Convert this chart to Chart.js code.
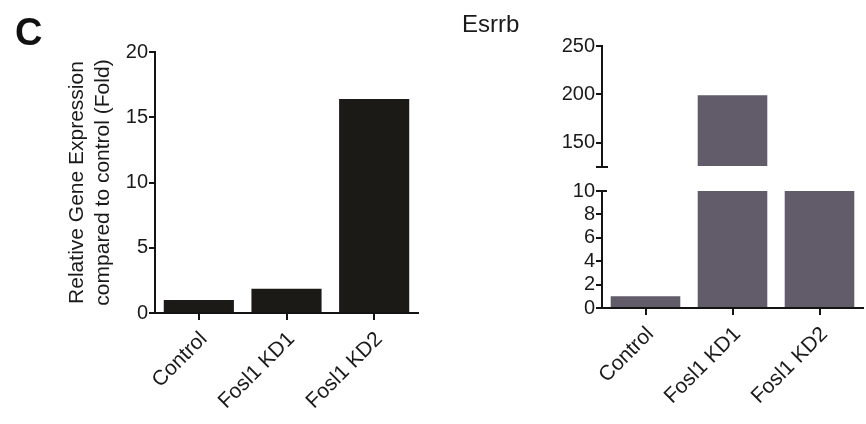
<!DOCTYPE html>
<html>
<head>
<meta charset="utf-8">
<script src="https://cdn.jsdelivr.net/npm/chart.js@4.4.1/dist/chart.umd.min.js"></script>
<style>
  html, body { margin: 0; padding: 0; background: #ffffff; }
  #fig { position: relative; width: 866px; height: 424px; overflow: hidden; background: #ffffff; }
  .wrap { position: absolute; top: 0; height: 424px; }
  #leftWrap { left: 0; width: 440px; }
  #rightWrap { left: 440px; width: 426px; }
  .panel-letter { position: absolute; left: 15px; top: 13px; font: bold 38px "Liberation Sans", Arial, sans-serif; line-height: 1; color: #111; }
  .gene { position: absolute; left: 462px; top: 12px; font: 24px "Liberation Sans", Arial, sans-serif; line-height: 1; color: #1a1a1a; }
</style>
</head>
<body>
<div id="fig">
  <div id="leftWrap" class="wrap"><canvas id="left"></canvas></div>
  <div id="rightWrap" class="wrap"><canvas id="right"></canvas></div>
  <div class="panel-letter">C</div>
  <div class="gene">Esrrb</div>
</div>
<script>
// Sample groups
const categories = ['Control', 'Fosl1 KD1', 'Fosl1 KD2'];

// Left panel: fold change relative to control
const foldValues = [1.0, 1.85, 16.4];
const foldTicks = [0, 5, 10, 15, 20];

// Right panel (Esrrb): fold change, shown on a broken axis
const esrrbValues = [1.0, 199, 17];
const esrrbLowerTicks = [0, 2, 4, 6, 8, 10];
const esrrbUpperTicks = [125, 150, 200, 250];

const FONT = '"Liberation Sans", Arial, sans-serif';
const INK = '#1a1a1a';
const AXIS = '#141414';

Chart.defaults.font.family = FONT;
Chart.defaults.color = INK;

function fixedTicks(list) {
  return scale => { scale.ticks = list.map(v => ({ value: v })); };
}

function valueAxisBase(list) {
  return {
    type: 'linear',
    position: 'left',
    min: list[0],
    max: list[list.length - 1],
    afterBuildTicks: fixedTicks(list),
    border: { display: true, color: AXIS, width: 2 },
    grid: { display: true, drawOnChartArea: false, drawTicks: true, tickLength: 6, color: AXIS, lineWidth: 2 },
    ticks: { font: { size: 20 }, color: INK, padding: 1, autoSkip: false }
  };
}

function categoryAxis(height) {
  return {
    type: 'category',
    offset: true,
    afterFit: s => { s.height = height; },
    border: { display: true, color: AXIS, width: 2 },
    grid: { display: true, offset: false, drawOnChartArea: false, drawTicks: true, tickLength: 7, color: AXIS, lineWidth: 2 },
    ticks: { font: { size: 21 }, color: INK, maxRotation: 45, minRotation: 45, autoSkip: false, padding: 7, labelOffset: 5 }
  };
}

// ---- Left panel ----
const leftY = valueAxisBase(foldTicks);
leftY.afterFit = s => { s.width = 155; };
leftY.title = {
  display: true,
  text: ['Relative Gene Expression', 'compared to control (Fold)'],
  font: { size: 21 },
  color: INK,
  padding: { top: 65 }
};

new Chart(document.getElementById('left'), {
  type: 'bar',
  data: {
    labels: categories,
    datasets: [{
      data: foldValues,
      backgroundColor: '#1c1a17',
      borderWidth: 0,
      barPercentage: 0.8,
      categoryPercentage: 1.0
    }]
  },
  options: {
    responsive: true,
    maintainAspectRatio: false,
    animation: false,
    layout: { padding: { top: 52, right: 22, left: 0, bottom: 0 } },
    plugins: { legend: { display: false }, tooltip: { enabled: false }, title: { display: false } },
    scales: {
      x: categoryAxis(111),
      y: leftY
    }
  }
});

// ---- Right panel (broken value axis) ----
const upperY = valueAxisBase(esrrbUpperTicks);
upperY.stack = 'esrrb';
upperY.stackWeight = 121;
upperY.weight = 3;
upperY.afterFit = s => { s.width = 162; };
upperY.ticks.callback = v => (v === esrrbUpperTicks[0] ? '' : v);

const gapY = {
  type: 'linear',
  position: 'left',
  stack: 'esrrb',
  stackWeight: 24,
  weight: 2,
  min: 0,
  max: 1,
  afterFit: s => { s.width = 162; },
  border: { display: false },
  grid: { display: false },
  ticks: { display: false }
};

const lowerY = valueAxisBase(esrrbLowerTicks);
lowerY.stack = 'esrrb';
lowerY.stackWeight = 117;
lowerY.weight = 1;
lowerY.afterFit = s => { s.width = 162; };

// Short caps to the right of the axis where it is broken
const breakCaps = {
  id: 'breakCaps',
  afterDraw(chart) {
    const { ctx } = chart;
    const up = chart.scales.yUpper;
    const low = chart.scales.yLower;
    const x = up.right;
    ctx.save();
    ctx.strokeStyle = AXIS;
    ctx.lineWidth = 2;
    ctx.beginPath();
    const yu = up.getPixelForValue(up.min);
    ctx.moveTo(x - 6, yu);
    ctx.lineTo(x + 6, yu);
    const yl = low.getPixelForValue(low.max);
    ctx.moveTo(x, yl);
    ctx.lineTo(x + 5, yl);
    ctx.stroke();
    ctx.restore();
  }
};

// Each dataset is clipped to the area of its own value axis,
// so the same values give the lower and upper pieces of each bar.
new Chart(document.getElementById('right'), {
  type: 'bar',
  data: {
    labels: categories,
    datasets: [
      {
        data: esrrbValues,
        yAxisID: 'yLower',
        grouped: false,
        backgroundColor: '#625c6a',
        borderWidth: 0,
        barPercentage: 0.8,
        categoryPercentage: 1.0
      },
      {
        data: esrrbValues,
        yAxisID: 'yUpper',
        base: esrrbUpperTicks[0],
        grouped: false,
        backgroundColor: '#625c6a',
        borderWidth: 0,
        barPercentage: 0.8,
        categoryPercentage: 1.0
      }
    ]
  },
  options: {
    responsive: true,
    maintainAspectRatio: false,
    animation: false,
    layout: { padding: { top: 46, right: 3, left: 0, bottom: 0 } },
    plugins: { legend: { display: false }, tooltip: { enabled: false }, title: { display: false } },
    scales: {
      x: categoryAxis(116),
      yUpper: upperY,
      yGap: gapY,
      yLower: lowerY
    }
  },
  plugins: [breakCaps]
});
</script>
</body>
</html>
